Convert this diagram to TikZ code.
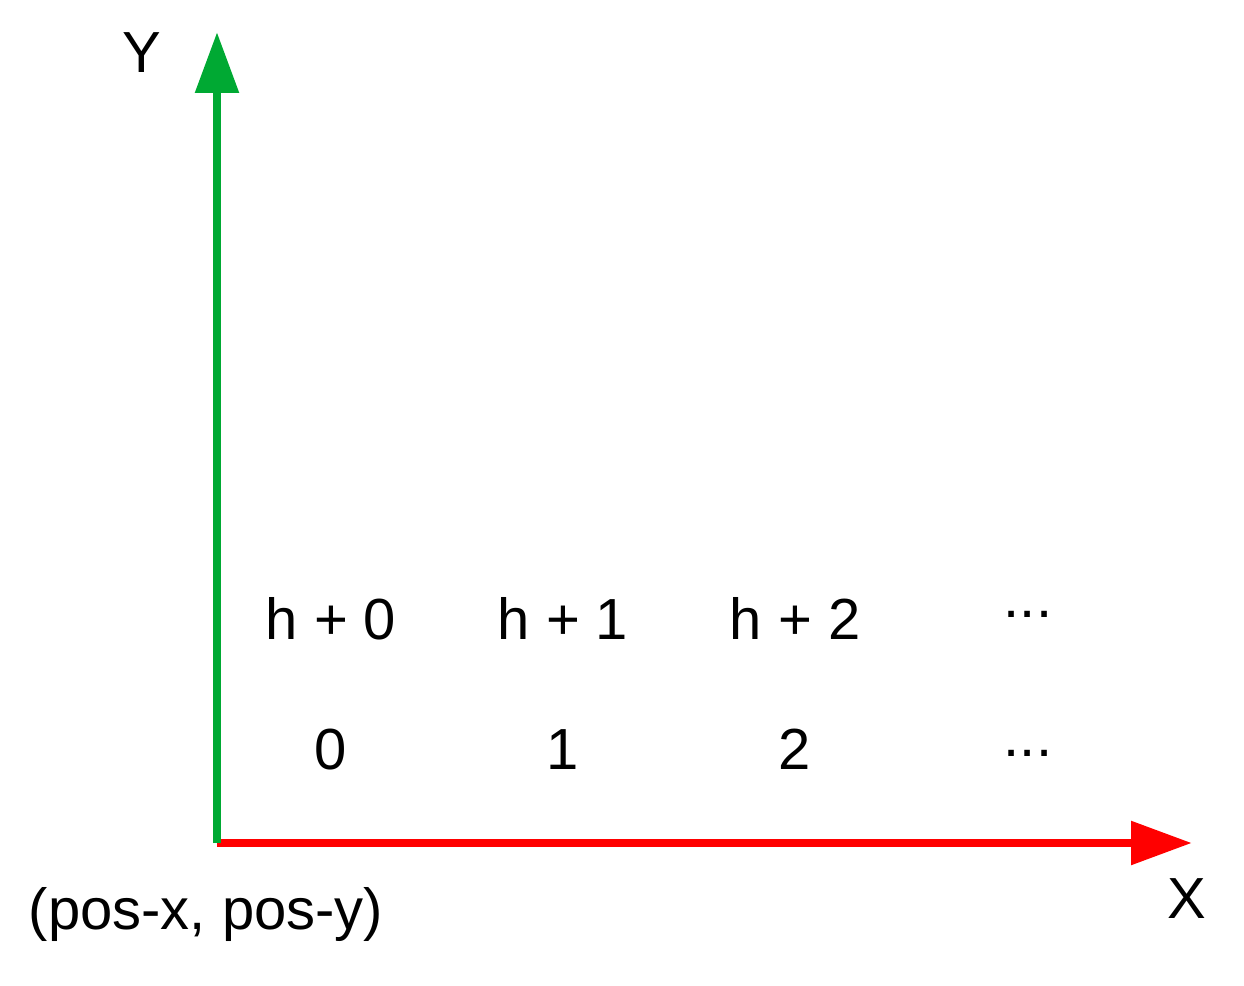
\documentclass[tikz,border=0pt]{standalone}
\usepackage{fontspec}
\setmainfont{Liberation Sans}
\usetikzlibrary{arrows.meta}
\definecolor{axisgreen}{HTML}{00A933}
\definecolor{axisred}{HTML}{FF0000}
\tikzset{axis/.style={line width=5pt, -{Triangle[length=1.22cm,width=0.84cm]}},
  lbl/.style={anchor=base, inner sep=0pt, font=\fontsize{33}{40}\selectfont}}

\begin{document}
\begin{tikzpicture}[x=0.02cm,y=-0.02cm]
    \useasboundingbox (0,0) rectangle (1244,986);
    % axes
    \coordinate (O) at (217,843);
    \coordinate (Ytip) at (217,32);
    \coordinate (Xtip) at (1192,843);
    \draw[axis, color=axisred] (O) -- (Xtip);
    \draw[axis, color=axisgreen] (O) -- (Ytip);
    \node[lbl] (ylabel) at (142,73) {Y};
    \node[lbl] (xlabel) at (1187,918) {X};
    \node[lbl] (origin) at (206,929) {(pos-x, pos-y)};
    % columns
    \foreach \i/\x in {0/331,1/563,2/795} {
        \node[lbl] (h\i) at (\x,639) {h + \i};
        \node[lbl] (n\i) at (\x,769) {\i};
    }
    \node[lbl] (hdots) at (1028,617) {...};
    \node[lbl] (ndots) at (1028,756) {...};
\end{tikzpicture}
\end{document}
